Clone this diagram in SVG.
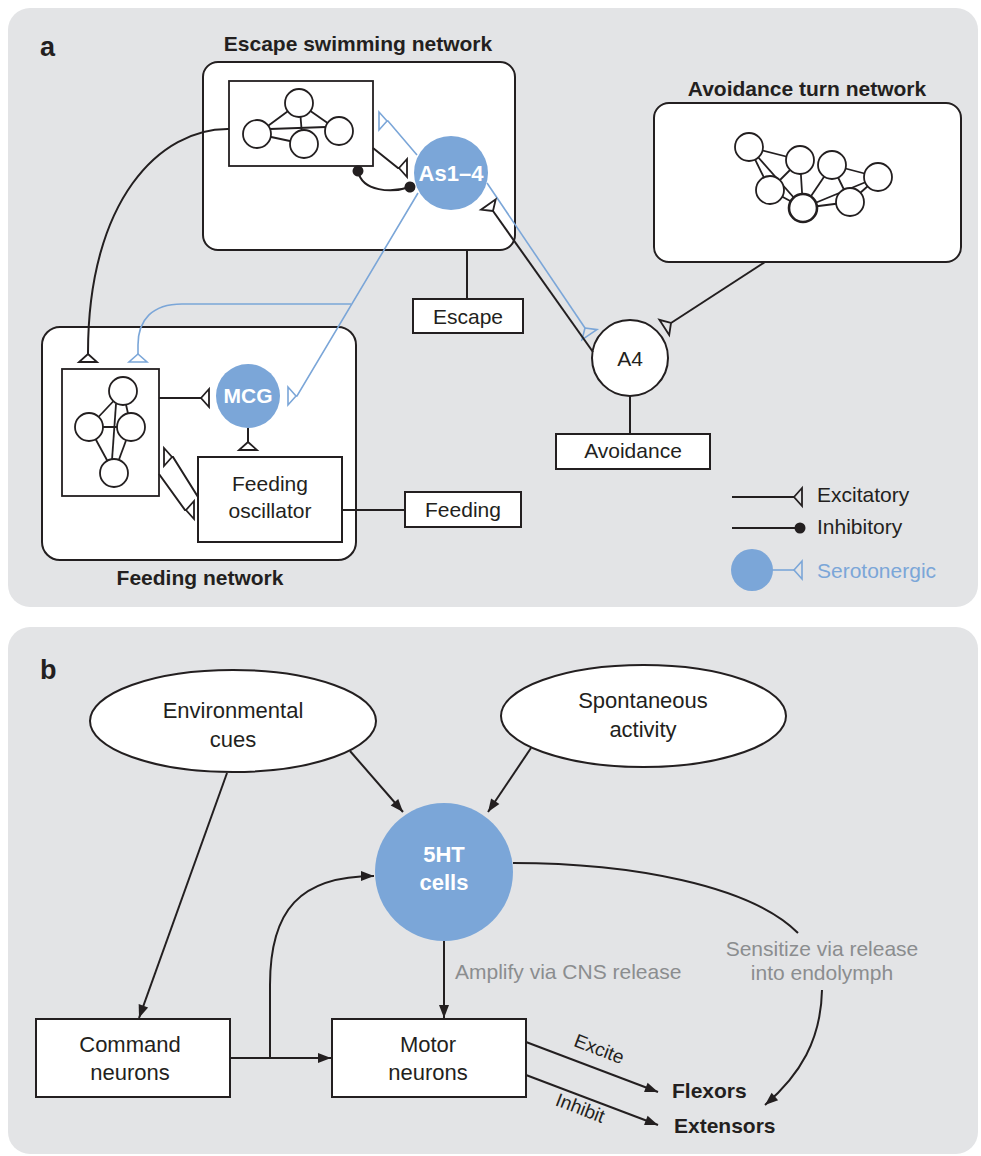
<svg xmlns="http://www.w3.org/2000/svg" width="981" height="1156" viewBox="0 0 981 1156">
<defs>
<style>
.panel{fill:#e3e4e6;stroke:none}
.box{fill:#fff;stroke:#231f20;stroke-width:2}
.thin{fill:#fff;stroke:#231f20;stroke-width:1.8}
.ln{fill:none;stroke:#231f20;stroke-width:2}
.bl{fill:none;stroke:#7ba6d8;stroke-width:1.6}
.blue{fill:#7ba6d8;stroke:none}
.edge{stroke:#231f20;stroke-width:1.8;fill:none}
.t{font-family:"Liberation Sans",Arial,sans-serif;font-size:21px;fill:#231f20}
.tb{font-family:"Liberation Sans",Arial,sans-serif;font-size:22px;fill:#231f20}
.b{font-weight:bold}
.w{fill:#fff;font-weight:bold}
.g{fill:#8b8d8f}
.mid{text-anchor:middle}
.letter{font-size:27px}
.small{font-size:19px}
.out{font-size:21px}
</style>
<marker id="exc" markerUnits="userSpaceOnUse" markerWidth="12" markerHeight="22" refX="1" refY="10" orient="auto" overflow="visible"><path d="M1,10 L9,1 L9,19 Z" fill="none" stroke="#231f20" stroke-width="1.8"/></marker>
<marker id="sero" markerUnits="userSpaceOnUse" markerWidth="12" markerHeight="22" refX="1" refY="10" orient="auto" overflow="visible"><path d="M1,10 L9,1 L9,19 Z" fill="none" stroke="#7ba6d8" stroke-width="1.6"/></marker>
<marker id="inh" markerUnits="userSpaceOnUse" markerWidth="12" markerHeight="12" refX="6" refY="6" orient="auto" overflow="visible"><circle cx="6" cy="6" r="5.5" fill="#231f20"/></marker>
<marker id="ah" markerUnits="userSpaceOnUse" markerWidth="14" markerHeight="11" refX="13" refY="5" orient="auto" overflow="visible"><path d="M0,0 L13,5 L0,10 Z" fill="#231f20"/></marker>
</defs>

<rect class="panel" x="8" y="8" width="970" height="599" rx="22"/>
<rect class="panel" x="8" y="627" width="970" height="527" rx="22"/>
<text class="tb b letter" x="40" y="56">a</text>
<text class="tb b letter" x="40" y="679">b</text>

<!-- Panel a nodes -->
<g id="escape-network">
<rect class="box" x="203" y="62" width="312" height="188" rx="15"/>
<text class="t b mid" x="358" y="51">Escape swimming network</text>
<rect class="thin" x="229" y="81" width="144" height="85"/>
<line class="edge" x1="299" y1="103" x2="257" y2="134"/>
<line class="edge" x1="299" y1="103" x2="339" y2="131"/>
<line class="edge" x1="300" y1="110" x2="302" y2="135"/>
<line class="edge" x1="257" y1="134" x2="304" y2="144"/>
<line class="edge" x1="270" y1="129" x2="326" y2="127"/>
<circle class="thin" cx="299" cy="103" r="14"/>
<circle class="thin" cx="257" cy="134" r="14"/>
<circle class="thin" cx="339" cy="131" r="14"/>
<circle class="thin" cx="304" cy="144" r="14"/>
</g>

<g id="as1-4">
<circle class="blue" cx="451" cy="173" r="37"/>
<text class="tb w mid" x="451" y="181">As1–4</text>
</g>

<g id="avoidance-network">
<rect class="box" x="654" y="103" width="307" height="159" rx="15"/>
<text class="t b mid" x="807" y="96">Avoidance turn network</text>
<line class="edge" x1="749" y1="147" x2="800" y2="160"/>
<line class="edge" x1="749" y1="147" x2="770" y2="190"/>
<line class="edge" x1="749" y1="147" x2="803" y2="208"/>
<line class="edge" x1="770" y1="190" x2="803" y2="208"/>
<line class="edge" x1="800" y1="160" x2="803" y2="208"/>
<line class="edge" x1="800" y1="160" x2="770" y2="190"/>
<line class="edge" x1="832" y1="165" x2="803" y2="208"/>
<line class="edge" x1="832" y1="165" x2="850" y2="202"/>
<line class="edge" x1="832" y1="165" x2="878" y2="177"/>
<line class="edge" x1="803" y1="208" x2="878" y2="177"/>
<line class="edge" x1="803" y1="208" x2="850" y2="202"/>
<line class="edge" x1="850" y1="202" x2="878" y2="177"/>
<circle class="thin" cx="749" cy="147" r="14"/>
<circle class="thin" cx="800" cy="160" r="14"/>
<circle class="thin" cx="832" cy="165" r="14"/>
<circle class="thin" cx="878" cy="177" r="14"/>
<circle class="thin" cx="770" cy="190" r="14"/>
<circle class="thin" cx="850" cy="202" r="14"/>
<circle class="thin" cx="803" cy="208" r="14" style="stroke-width:2.6"/>
</g>

<g id="feeding-network">
<rect class="box" x="42" y="327" width="314" height="233" rx="18"/>
<text class="t b mid" x="200" y="585">Feeding network</text>
<rect class="thin" x="62" y="369" width="97" height="127"/>
<line class="edge" x1="123" y1="391" x2="89" y2="427"/>
<line class="edge" x1="123" y1="391" x2="131" y2="427"/>
<line class="edge" x1="116" y1="404" x2="112" y2="460"/>
<line class="edge" x1="89" y1="427" x2="131" y2="427"/>
<line class="edge" x1="89" y1="427" x2="114" y2="473"/>
<line class="edge" x1="131" y1="427" x2="114" y2="473"/>
<circle class="thin" cx="123" cy="391" r="14"/>
<circle class="thin" cx="89" cy="427" r="14"/>
<circle class="thin" cx="131" cy="427" r="14"/>
<circle class="thin" cx="114" cy="473" r="14"/>
</g>

<g id="mcg">
<circle class="blue" cx="248" cy="396" r="32"/>
<text class="t w mid" x="248" y="403">MCG</text>
</g>

<g id="feeding-oscillator">
<rect class="box" x="198" y="457" width="144" height="85"/>
<text class="t mid" x="270" y="491">Feeding</text>
<text class="t mid" x="270" y="518">oscillator</text>
</g>

<g id="escape-label">
<rect class="box" x="413" y="299" width="110" height="34"/>
<text class="t mid" x="468" y="324">Escape</text>
</g>

<g id="a4">
<circle class="box" cx="630" cy="358" r="38"/>
<text class="t mid" x="630" y="366">A4</text>
</g>

<g id="avoidance-label">
<rect class="box" x="556" y="434" width="154" height="35"/>
<text class="t mid" x="633" y="458">Avoidance</text>
</g>

<g id="feeding-label">
<rect class="box" x="405" y="492" width="116" height="35"/>
<text class="t mid" x="463" y="517">Feeding</text>
</g>

<g id="legend">
<line class="ln" x1="732" y1="497" x2="794" y2="497" marker-end="url(#exc)"/>
<text class="t" x="817" y="502">Excitatory</text>
<line class="ln" x1="732" y1="528" x2="800" y2="528" marker-end="url(#inh)"/>
<text class="t" x="817" y="534">Inhibitory</text>
<circle class="blue" cx="752" cy="570" r="21"/>
<line class="bl" x1="770" y1="570" x2="794" y2="570" marker-end="url(#sero)"/>
<text class="t" x="817" y="578" style="fill:#7ba6d8">Serotonergic</text>
</g>

<g id="connectors-a">
<path class="ln" d="M229,129 C160,128 88,200 88,353 L88,354" marker-end="url(#exc)"/>
<path class="ln" d="M373,148 L398,168 l1,0" marker-end="url(#exc)"/>
<path class="ln" d="M358,171 C362,192 392,193 410,187" marker-start="url(#inh)" marker-end="url(#inh)"/>
<path class="bl" d="M417,155 L388,121 l-1,0" marker-end="url(#sero)"/>
<path class="bl" d="M418,193 L297,396 l-1,0" marker-end="url(#sero)"/>
<path class="bl" d="M351,304 L182,304 C152,304 138,320 138,345 L138,354" marker-end="url(#sero)"/>
<path class="bl" d="M487,183 L585,328" marker-end="url(#sero)"/>
<path class="ln" d="M593,352 L493,211" marker-end="url(#exc)"/>
<path class="ln" d="M765,262 L671,323" marker-end="url(#exc)"/>
<line class="ln" x1="467" y1="250" x2="467" y2="299"/>
<line class="ln" x1="630" y1="396" x2="630" y2="434"/>
<line class="ln" x1="342" y1="510" x2="405" y2="510"/>
<path class="ln" d="M159,398 L201,398" marker-end="url(#exc)"/>
<path class="ln" d="M248,428 L248,442" marker-end="url(#exc)"/>
<path class="ln" d="M198,497 L173,457 l-1,0" marker-end="url(#exc)"/>
<path class="ln" d="M159,474 L185,510 l1,0" marker-end="url(#exc)"/>
</g>

<!-- Panel b nodes -->
<g id="environmental-cues">
<ellipse class="box" cx="233" cy="721" rx="143" ry="51"/>
<text class="tb mid" x="233" y="718">Environmental</text>
<text class="tb mid" x="233" y="747">cues</text>
</g>
<g id="spontaneous-activity">
<ellipse class="box" cx="643.5" cy="716" rx="142.5" ry="51"/>
<text class="tb mid" x="643" y="708">Spontaneous</text>
<text class="tb mid" x="643" y="737">activity</text>
</g>
<g id="5ht-cells">
<circle class="blue" cx="444" cy="872" r="69"/>
<text class="tb w mid" x="444" y="862">5HT</text>
<text class="tb w mid" x="444" y="890">cells</text>
</g>
<g id="command-neurons">
<rect class="box" x="36" y="1019" width="194" height="78"/>
<text class="tb mid" x="130" y="1052">Command</text>
<text class="tb mid" x="130" y="1080">neurons</text>
</g>
<g id="motor-neurons">
<rect class="box" x="332" y="1019" width="194" height="78"/>
<text class="tb mid" x="428" y="1052">Motor</text>
<text class="tb mid" x="428" y="1080">neurons</text>
</g>
<g id="flexors"><text class="tb b out" x="672" y="1098">Flexors</text></g>
<g id="extensors"><text class="tb b out" x="674" y="1133">Extensors</text></g>

<g id="connectors-b">
<path class="ln" d="M350,751 L403,812" marker-end="url(#ah)"/>
<path class="ln" d="M531,748 L488,812" marker-end="url(#ah)"/>
<path class="ln" d="M227,773 L139,1018" marker-end="url(#ah)"/>
<path class="ln" d="M230,1058 L331,1058" marker-end="url(#ah)"/>
<path class="ln" d="M270,1058 L270,985 C270,910 300,876 374,876" marker-end="url(#ah)"/>
<path class="ln" d="M444,941 L444,1018" marker-end="url(#ah)"/>
<path class="ln" d="M526,1042 L658,1092" marker-end="url(#ah)"/>
<path class="ln" d="M526,1075 L658,1125" marker-end="url(#ah)"/>
<path class="ln" d="M513,863 C630,863 750,885 798,933"/>
<path class="ln" d="M822,990 C821,1040 800,1075 765,1105" marker-end="url(#ah)"/>
<text class="t g" x="455" y="979">Amplify via CNS release</text>
<text class="t g mid" x="822" y="956">Sensitize via release</text>
<text class="t g mid" x="822" y="980">into endolymph</text>
<text class="t mid small" transform="translate(597,1055) rotate(21)">Excite</text>
<text class="t mid small" transform="translate(578,1114) rotate(21)">Inhibit</text>
</g>
</svg>
